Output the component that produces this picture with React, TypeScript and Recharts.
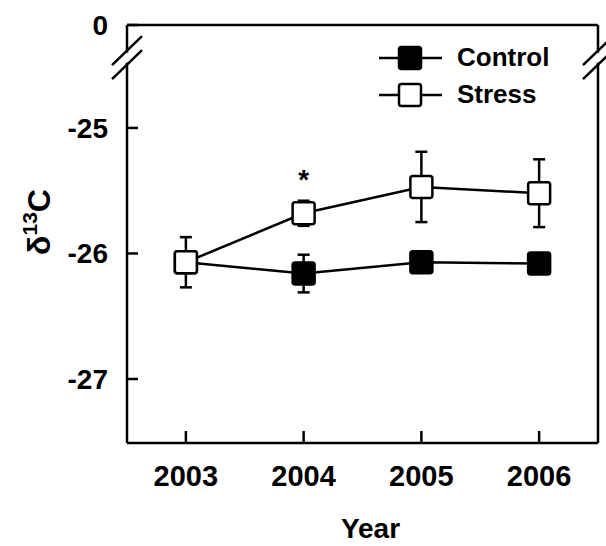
import React from 'react'
import { ComposedChart, Line, XAxis, YAxis, ErrorBar, ReferenceLine, ReferenceDot, Legend, LabelList } from 'recharts'

const years = [2003, 2004, 2005, 2006]
const controlMean = [-26.07, -26.16, -26.07, -26.08]
const controlErr = [0.05, 0.15, 0.04, 0.04]
const stressMean = [-26.07, -25.68, -25.47, -25.52]
const stressErr = [0.2, 0.1, 0.28, 0.27]
const stressMark = ['', '*', '', '']
const yTicks = [-27, -26, -25]
// the axis is broken: the value at the very top is labelled 0
const yTop = -24.18
const yBottom = -27.51
const yBreak = -24.44
const xDomain = [2002.5, 2006.5]

const data = years.map((year, i) => ({
  year,
  control: controlMean[i],
  controlErr: controlErr[i],
  stress: stressMean[i],
  stressErr: stressErr[i],
  mark: stressMark[i],
}))

const FONT = '"Liberation Sans", Arial, sans-serif'
const fills: Record<string, string> = { Control: '#000', Stress: '#fff' }

const square = (fill: string) => (props: any) => {
  const { cx, cy } = props
  if (cx == null || cy == null) return <g />
  return <rect x={cx - 11} y={cy - 11} width={22} height={22} rx={2.5} fill={fill} stroke="#000" strokeWidth={2.5} />
}

const BreakMark = (props: any) => {
  const { cx, cy } = props
  return (
    <g>
      <rect x={cx - 3} y={cy - 5} width={6} height={10} fill="#fff" />
      <line x1={cx - 15} y1={cy - 7 + 14.5} x2={cx + 15} y2={cy - 7 - 14.5} stroke="#000" strokeWidth={2.5} />
      <line x1={cx - 15} y1={cy + 7 + 14.5} x2={cx + 15} y2={cy + 7 - 14.5} stroke="#000" strokeWidth={2.5} />
    </g>
  )
}

const YLabel = () => (
  <text transform="rotate(-90, 50, 222)" x={50} y={222} textAnchor="middle" fontFamily={FONT} fontWeight="bold" fontSize={32} fill="#000">
    δ<tspan fontSize={21} dy={-13}>13</tspan><tspan dy={13}>C</tspan>
  </text>
)

const XLabel = (props: any) => {
  const vb = props.viewBox
  return (
    <text x={vb.x + vb.width / 2 + 8} y={vb.y + vb.height - 8} textAnchor="middle" fontFamily={FONT} fontWeight="bold" fontSize={28} fill="#000">
      Year
    </text>
  )
}

const LegendBox = (props: any) => (
  <div>
    {props.payload.map((entry: any) => (
      <div key={entry.value} style={{ display: 'flex', alignItems: 'center', height: 37 }}>
        <svg width={64} height={28}>
          <line x1={0} y1={14} x2={63} y2={14} stroke="#000" strokeWidth={2.5} />
          <rect x={20} y={3} width={22} height={22} rx={2.5} fill={fills[entry.value]} stroke="#000" strokeWidth={2.5} />
        </svg>
        <span style={{ marginLeft: 14, fontFamily: FONT, fontWeight: 'bold', fontSize: 26, color: '#000' }}>{entry.value}</span>
      </div>
    ))}
  </div>
)

export default function App() {
  const xTickStyle = { fontFamily: FONT, fontWeight: 'bold', fontSize: 29, fill: '#000' }
  const yTickStyle = { fontFamily: FONT, fontWeight: 'bold', fontSize: 28, fill: '#000' }
  const axisStroke = { stroke: '#000', strokeWidth: 2.5 }
  return (
    <div style={{ position: 'absolute', left: 0, top: 0, background: '#fff' }}>
      <ComposedChart width={606} height={546} data={data} margin={{ top: 25, right: 8, left: 0, bottom: 0 }}>
        <XAxis
          dataKey="year"
          type="number"
          domain={xDomain}
          ticks={years}
          interval={0}
          tick={xTickStyle}
          tickSize={-12}
          tickMargin={34}
          axisLine={axisStroke}
          tickLine={axisStroke}
          height={103}
          label={{ content: XLabel }}
        />
        <YAxis
          yAxisId="left"
          type="number"
          domain={[yBottom, yTop]}
          ticks={[...yTicks, yTop]}
          interval={0}
          allowDataOverflow
          tickFormatter={(v: number) => (v === yTop ? '0' : String(v))}
          tick={yTickStyle}
          tickSize={-11}
          tickMargin={30}
          axisLine={axisStroke}
          tickLine={axisStroke}
          width={127}
          label={{ content: YLabel }}
        />
        <YAxis
          yAxisId="right"
          orientation="right"
          type="number"
          domain={[yBottom, yTop]}
          ticks={yTicks}
          interval={0}
          allowDataOverflow
          mirror
          tick={false}
          tickSize={11}
          axisLine={axisStroke}
          tickLine={axisStroke}
        />
        <ReferenceLine yAxisId="left" y={yTop} stroke="#000" strokeWidth={2.5} ifOverflow="visible" />
        <ReferenceDot yAxisId="left" x={xDomain[0]} y={yBreak} ifOverflow="visible" shape={BreakMark} />
        <ReferenceDot yAxisId="left" x={xDomain[1]} y={yBreak} ifOverflow="visible" shape={BreakMark} />
        <Legend layout="vertical" align="center" verticalAlign="middle" content={LegendBox} wrapperStyle={{ left: 379, top: 39, width: 220 }} />
        <Line yAxisId="left" name="Control" dataKey="control" stroke="#000" strokeWidth={2.5} dot={square('#000')} activeDot={false} isAnimationActive={false}>
          <ErrorBar dataKey="controlErr" width={6} stroke="#000" strokeWidth={2.5} direction="y" isAnimationActive={false} />
        </Line>
        <Line yAxisId="left" name="Stress" dataKey="stress" stroke="#000" strokeWidth={2.5} dot={square('#fff')} activeDot={false} isAnimationActive={false}>
          <ErrorBar dataKey="stressErr" width={6} stroke="#000" strokeWidth={2.5} direction="y" isAnimationActive={false} />
          <LabelList dataKey="mark" position="top" offset={24} style={{ fontFamily: FONT, fontWeight: 'bold', fontSize: 28, fill: '#000' }} />
        </Line>
      </ComposedChart>
    </div>
  )
}
